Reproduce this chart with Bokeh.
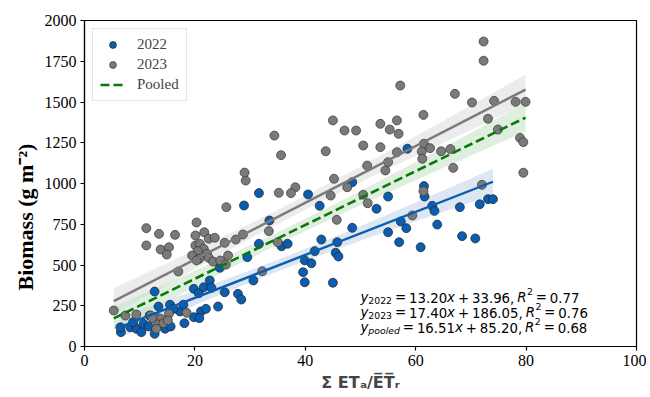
import numpy as np
from bokeh.plotting import figure
from bokeh.models import Label, Legend, LegendItem, Range1d, FixedTicker, Title
from bokeh.embed import file_html
from bokeh.resources import INLINE

# ---------------- data ----------------
x2022 = [61.5, 61.6, 63.0, 63.4, 63.9, 68.0, 71.6, 73.1, 74.0, 68.4, 70.8, 60.9,
         31.6, 40.5, 42.6, 48.5, 58.5, 55.0, 52.9, 33.5, 31.6, 35.7, 36.8, 42.9,
         45.8, 48.5, 41.7, 45.5, 46.0, 39.9, 41.1, 39.6, 39.9, 45.0, 30.6, 55.0,
         57.0, 57.3, 58.3,
         28.9, 29.5, 24.5, 22.7, 25.4, 19.8, 20.7, 21.6, 23.0, 27.8, 28.4, 12.7,
         13.4, 15.5, 17.3, 17.9, 16.1, 19.8, 21.1, 22.0, 24.2, 18.1, 20.8, 6.6,
         6.5, 8.3, 9.4, 10.3, 8.8, 10.7, 11.6, 12.7, 14.6, 15.6, 11.8]
y2022 = [984, 920, 863, 832, 748, 855, 873, 904, 904, 677, 663, 609,
         941, 933, 863, 1008, 1213, 920, 845, 773, 630, 615, 630, 656,
         640, 728, 585, 575, 552, 528, 511, 456, 394, 391, 405, 701,
         640, 767, 726,
         865, 548, 483, 405, 333, 354, 327, 364, 360, 323, 288, 337,
         245, 256, 215, 256, 231, 180, 215, 231, 245, 143, 174, 88,
         118, 118, 109, 88, 149, 139, 123, 78, 109, 123, 190]

x2023 = [72.3, 72.3, 67.1, 70.2, 74.2, 78.1, 79.9, 61.4, 73.1, 74.9, 78.9, 79.5,
         61.5, 62.6, 61.1, 64.6, 66.3, 66.8, 79.5, 61.2, 72.0, 61.4,
         57.2, 34.4, 45.0, 47.1, 49.2, 53.6, 55.3, 56.6, 56.9, 35.6, 43.7, 50.5,
         53.6, 56.6, 51.2, 54.5, 55.0, 45.2, 47.6, 38.2, 37.4, 35.2, 44.6, 50.5,
         51.3, 45.7, 59.4, 33.4, 35.0, 32.2,
         11.2, 13.5, 16.4, 11.2, 13.8, 15.3, 14.9, 20.3, 20.1, 21.7, 22.5, 23.6,
         20.1, 20.9, 21.6, 20.5, 19.5, 20.8, 20.3, 22.2, 22.5, 23.3, 24.6, 25.6,
         25.4, 27.4, 28.7, 26.0, 25.7, 29.2, 29.0, 17.0, 5.3, 7.4, 9.4, 12.0,
         13.0, 12.3, 13.8, 15.3, 13.3, 14.3, 15.1, 13.0, 18.5]
y2023 = [1871, 1753, 1550, 1497, 1507, 1501, 1501, 1421, 1397, 1331, 1280, 1254,
         1244, 1217, 1196, 1198, 1211, 1096, 1066, 1152, 992, 953,
         1601, 1294, 1387, 1325, 1325, 1366, 1331, 1387, 1305, 1174, 1198, 1233,
         1223, 1192, 1110, 1080, 1131, 1029, 977, 977, 941, 943, 926, 931,
         879, 777, 804, 708, 640, 462,
         726, 691, 685, 620, 595, 609, 564, 761, 681, 701, 661, 667,
         620, 630, 599, 585, 558, 538, 528, 569, 544, 521, 528, 503,
         636, 656, 687, 558, 855, 1018, 1067, 460, 221, 190, 196, 190,
         180, 174, 170, 201, 135, 143, 160, 109, 207]

fit_names = ["2022", "2023", "pooled"]
fit_slope = [13.20, 17.40, 16.51]
fit_intercept = [33.96, 186.05, 85.20]
fit_r2 = [0.77, 0.76, 0.68]

x_ticks = [0, 20, 40, 60, 80, 100]
y_ticks = [0, 250, 500, 750, 1000, 1250, 1500, 1750, 2000]

# ---------------- styling ----------------
BLUE = "#0a5db0"
GREY = "#7a7a7a"
GREEN = "#0a780a"

p = figure(width=646, height=395, output_backend="svg", toolbar_location=None,
           min_border_left=84, min_border_right=10, min_border_top=20, min_border_bottom=49,
           x_range=Range1d(0, 100), y_range=Range1d(0, 2000))
p.grid.visible = False
p.outline_line_color = "black"
p.outline_line_width = 1.2
p.background_fill_color = "white"

for ax in (p.xaxis[0], p.yaxis[0]):
    ax.major_label_text_font = "Liberation Serif"
    ax.major_label_text_font_size = "16px"
    ax.major_label_text_color = "black"
    ax.major_tick_out = 4
    ax.major_tick_in = 0
    ax.minor_tick_out = 0
    ax.minor_tick_in = 0
    ax.axis_line_color = "black"
    ax.axis_line_width = 1.2
    ax.major_tick_line_width = 1.2
    ax.major_label_standoff = 4
p.xaxis.ticker = FixedTicker(ticks=x_ticks)
p.yaxis.ticker = FixedTicker(ticks=y_ticks)

p.xaxis.axis_label = "\u03a3 ET\u2090/E\u0305T\u0305\u1d63"
p.xaxis.axis_label_text_font = "DejaVu Sans"
p.xaxis.axis_label_text_font_style = "bold"
p.xaxis.axis_label_text_font_size = "16px"
p.xaxis.axis_label_standoff = 4

# y-axis title as a side title, so it can be shifted like in the reference
p.add_layout(Title(text="Biomass (g m\u207b\u00b2)", align="left", offset=56, standoff=8,
                   text_font="Liberation Serif", text_font_style="bold",
                   text_font_size="22px", text_color="black"), "left")


def ci_band(xv, yv, a, b, xs):
    xv = np.asarray(xv, float)
    yv = np.asarray(yv, float)
    n = len(xv)
    resid = yv - (a * xv + b)
    s = np.sqrt(np.sum(resid ** 2) / (n - 2))
    xbar = xv.mean()
    sxx = np.sum((xv - xbar) ** 2)
    se = s * np.sqrt(1.0 / n + (xs - xbar) ** 2 / sxx)
    line = a * xs + b
    return line - 1.98 * se, line + 1.98 * se


x_all = x2022 + x2023
y_all = y2022 + y2023
sets = [(x2022, y2022, BLUE, "#bccfe8"), (x2023, y2023, GREY, "#dadada"), (x_all, y_all, GREEN, "#bfe0bf")]

line_renderers = []
for i, (xv, yv, col, band_col) in enumerate(sets):
    xs = np.linspace(min(xv), max(xv), 100)
    lo, hi = ci_band(xv, yv, fit_slope[i], fit_intercept[i], xs)
    p.varea(x=xs, y1=lo, y2=hi, fill_color=band_col, fill_alpha=0.5)

r22 = p.scatter(x2022, y2022, size=9, fill_color=BLUE, line_color="#222222", line_width=0.7)
r23 = p.scatter(x2023, y2023, size=9, fill_color=GREY, line_color="#333333", line_width=0.7)

for i, (xv, yv, col, band_col) in enumerate(sets):
    xs = np.array([min(xv), max(xv)])
    ys = fit_slope[i] * xs + fit_intercept[i]
    if i == 2:
        r = p.line(xs, ys, line_color=col, line_width=2.6, line_dash="9 4")
    else:
        r = p.line(xs, ys, line_color=col, line_width=2.4)
    line_renderers.append(r)

legend = Legend(items=[LegendItem(label="2022", renderers=[r22]),
                       LegendItem(label="2023", renderers=[r23]),
                       LegendItem(label="Pooled", renderers=[line_renderers[2]])],
                location="top_left", margin=8, padding=7, spacing=3,
                glyph_height=17, glyph_width=25, label_standoff=12,
                label_text_font="Liberation Serif", label_text_font_size="15px",
                border_line_color="#cccccc", border_line_width=1,
                background_fill_alpha=0.9)
p.add_layout(legend)

# ---------------- equation texts ----------------
W = {"0": 0.636, "1": 0.636, "2": 0.636, "3": 0.636, "4": 0.636, "5": 0.636,
     "6": 0.636, "7": 0.636, "8": 0.636, "9": 0.636, ".": 0.318, ",": 0.318,
     " ": 0.318, "=": 0.838, "+": 0.838, "x": 0.592, "y": 0.592, "R": 0.695,
     "p": 0.635, "o": 0.612, "l": 0.278, "e": 0.615, "d": 0.635}
FS = 13.3
SUB = FS * 0.7
GAP = 0.22 * FS


def width(s, size):
    return sum(W[c] for c in s) * size


def put(text, x, y, size, italic=False):
    p.add_layout(Label(x=x, y=y, x_units="screen", y_units="screen", text=text,
                       text_font="DejaVu Sans", text_font_size=f"{size}px",
                       text_font_style="italic" if italic else "normal",
                       text_baseline="alphabetic", text_align="left", text_color="black"))
    return x + width(text, size)


x0 = 276
base_y = [49, 34, 19]
for i in range(3):
    y = base_y[i]
    x = put("y", x0, y, FS, True)
    x = put(fit_names[i], x, y - 3, SUB, fit_names[i] == "pooled")
    x = put("=", x + GAP, y, FS)
    x = put(f"{fit_slope[i]:.2f}", x + GAP, y, FS)
    x = put("x", x, y, FS, True)
    x = put("+", x + GAP, y, FS)
    x = put(f"{fit_intercept[i]:.2f},", x + GAP, y, FS)
    x = put("R", x + GAP, y, FS, True)
    x = put("2", x + 0.5, y + 6, SUB)
    x = put("=", x + GAP, y, FS)
    x = put(f"{fit_r2[i]:.2f}", x + GAP, y, FS)

open("out.html", "w").write(file_html(p, INLINE))
